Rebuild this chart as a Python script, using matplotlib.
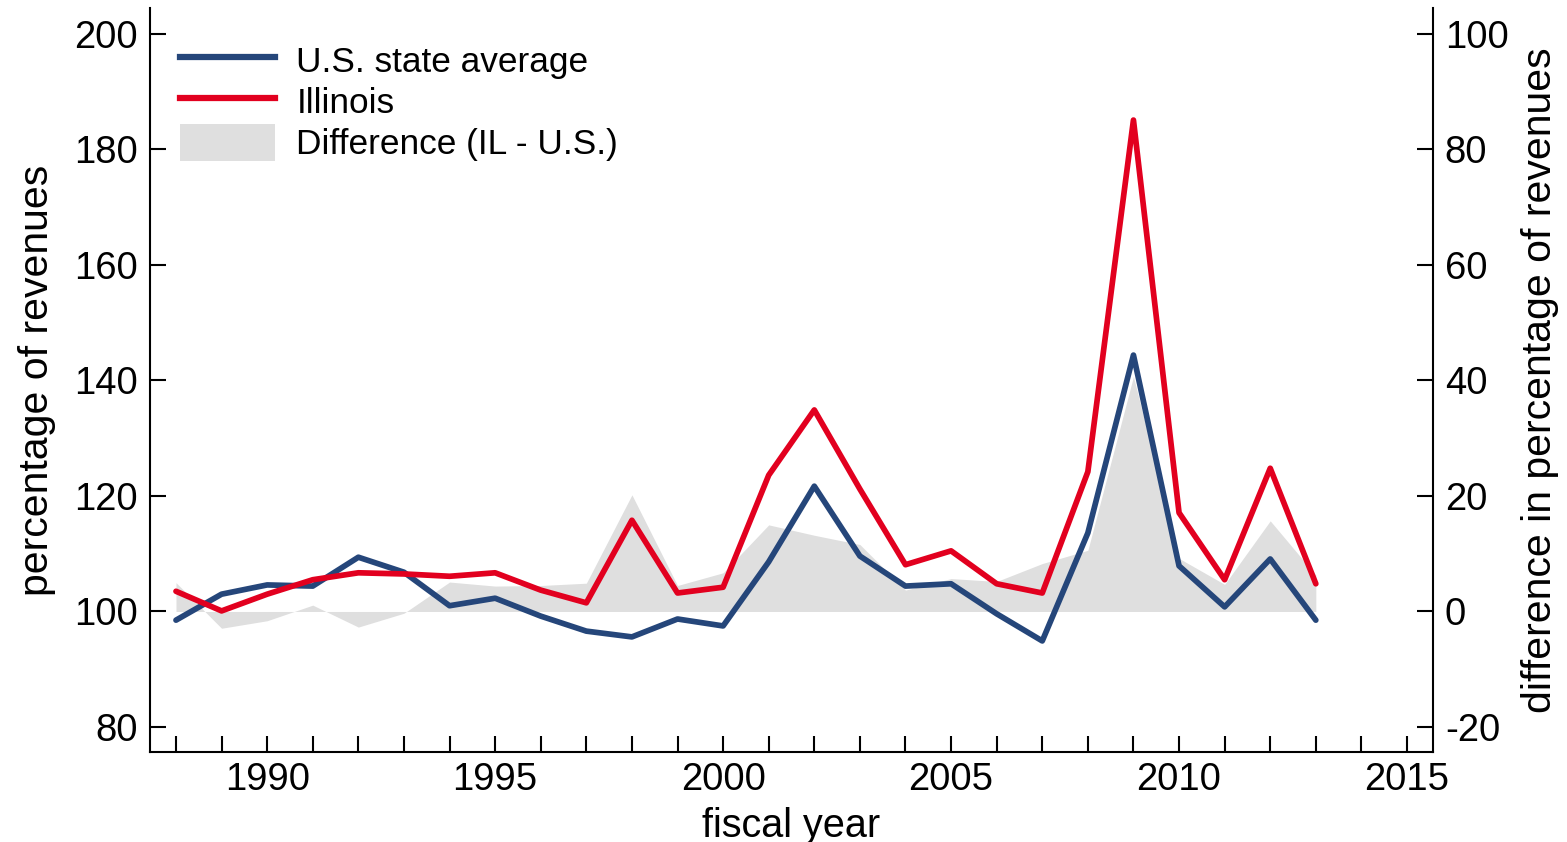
import matplotlib
matplotlib.use("Agg")
import matplotlib.pyplot as plt
import numpy as np
from matplotlib.patches import Patch
from matplotlib.lines import Line2D

plt.rcParams['font.family'] = ['Liberation Sans', 'DejaVu Sans']
plt.rcParams['axes.unicode_minus'] = False

# data (percentage of revenues)
years = list(range(1988, 2014))
us = [98.5, 103.0, 104.6, 104.4, 109.4, 106.8, 101.0, 102.3, 99.2, 96.6,
      95.6, 98.7, 97.5, 108.6, 121.7, 109.6, 104.4, 104.8, 99.6, 94.9,
      113.6, 144.4, 107.9, 100.8, 109.1, 98.5]
il = [103.5, 100.1, 103.0, 105.5, 106.7, 106.5, 106.1, 106.7, 103.7, 101.5,
      115.8, 103.2, 104.2, 123.6, 134.9, 121.2, 108.1, 110.5, 104.8, 103.2,
      124.2, 185.1, 117.1, 105.5, 124.8, 104.8]

blue = '#25467a'
red = '#e2001f'
grey = '#dfdfdf'
fs = 27.5

diff = np.array(il) - np.array(us)  # IL - U.S.

fig = plt.figure(figsize=(15.67, 8.42), dpi=100)
ax = fig.add_axes([150/1567, 1-752/842, (1433-150)/1567, (752-8)/842])
ax2 = ax.twinx()

# difference area on the right axis, drawn under the lines
ax2.fill_between(years, 0, diff, color=grey, linewidth=0)
ax.set_zorder(ax2.get_zorder() + 1)
ax.patch.set_visible(False)

ax.plot(years, us, color=blue, lw=4.1, solid_joinstyle='round', solid_capstyle='round')
ax.plot(years, il, color=red, lw=4.1, solid_joinstyle='round', solid_capstyle='round')

ax.set_xlim(1987.43, 2015.57)
ax.set_ylim(75.67, 204.5)
ax2.set_ylim(-24.33, 104.5)

ax.set_xticks(range(1990, 2016, 5))
ax.set_xticks(range(1988, 2016), minor=True)
ax.set_yticks(range(80, 201, 20))
ax2.set_yticks(range(-20, 101, 20))

for a in (ax, ax2):
    a.spines['top'].set_visible(False)
    for s in a.spines.values():
        s.set_linewidth(1.5)
ax.spines['right'].set_visible(False)
ax2.spines['left'].set_visible(False)
ax2.spines['bottom'].set_visible(False)

ax.tick_params(axis='both', which='both', direction='in', length=11.5, width=1.5,
               labelsize=fs)
ax.tick_params(axis='y', pad=9)
ax.tick_params(axis='x', pad=7.5)
ax2.tick_params(axis='y', direction='in', length=11.5, width=1.5, labelsize=fs, pad=8.5)

ax.set_xlabel('fiscal year', fontsize=28.5, labelpad=6)
ax.set_ylabel('percentage of revenues', fontsize=29.5, labelpad=13)
ax2.set_ylabel('difference in percentage of revenues', fontsize=29.5, labelpad=9)

handles = [Line2D([], [], color=blue, lw=4.5),
           Line2D([], [], color=red, lw=4.5),
           Patch(facecolor=grey, edgecolor='none')]
labels = ['U.S. state average', 'Illinois', 'Difference (IL - U.S.)']
ax.legend(handles, labels, loc='upper left', bbox_to_anchor=(180/1567, 1-42/842),
          bbox_transform=fig.transFigure, frameon=False, fontsize=25.4,
          borderpad=0, borderaxespad=0, labelspacing=0.12, handleheight=1.2,
          handlelength=2.7, handletextpad=0.6)

fig.savefig('out.png', dpi=100)
